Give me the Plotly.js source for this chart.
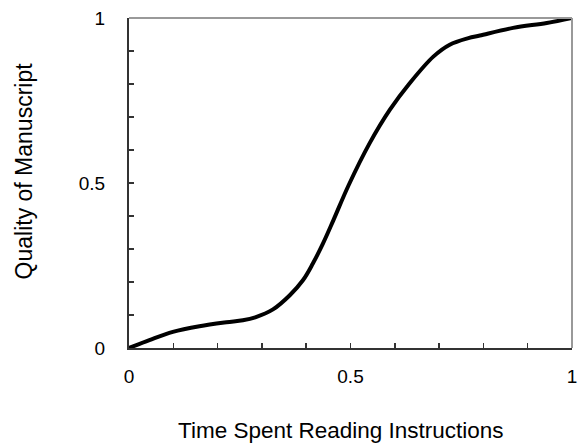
<!DOCTYPE html>
<html>
<head>
<meta charset="utf-8">
<script src="https://cdn.plot.ly/plotly-3.0.1.min.js"></script>
<style>html,body{margin:0;padding:0;background:#fff;}#chart{width:579px;height:443px;}</style>
</head>
<body>
<div id="chart"></div>
<script>
const timeSpent = [0, 0.046, 0.099, 0.159, 0.22, 0.257, 0.285, 0.325, 0.363, 0.393, 0.415, 0.438, 0.461, 0.496, 0.543, 0.589, 0.634, 0.687, 0.724, 0.766, 0.792, 0.867, 0.943, 1];
const quality   = [0, 0.024, 0.049, 0.066, 0.078, 0.084, 0.093, 0.117, 0.16, 0.206, 0.256, 0.317, 0.386, 0.494, 0.62, 0.722, 0.803, 0.883, 0.919, 0.939, 0.947, 0.970, 0.985, 1];
const tickVals = [0, 0.5, 1];
const tickText = ['0', '0.5', '1'];
const xTitle = 'Time Spent Reading Instructions';
const yTitle = 'Quality of Manuscript';

const font = {family: '"Liberation Sans", Arial, sans-serif', color: '#000'};

const trace = {
  x: timeSpent, y: quality, type: 'scatter', mode: 'lines',
  line: {color: '#000', width: 4, shape: 'spline', smoothing: 1},
  hoverinfo: 'skip'
};

const axisCommon = {
  range: [0, 1], showgrid: false, zeroline: false,
  showline: true, linecolor: '#333', linewidth: 2,
  ticks: 'inside', ticklen: 5, tickwidth: 1.5, tickcolor: '#333',
  tickvals: tickVals, ticktext: tickText,
  minor: {dtick: 0.1, ticks: 'inside', ticklen: 5, tickwidth: 1.5, tickcolor: '#333', showgrid: false},
  tickfont: Object.assign({size: 19}, font),
  fixedrange: true
};

const layout = {
  width: 579, height: 443,
  margin: {l: 129, r: 7, t: 18, b: 95},
  paper_bgcolor: '#fff', plot_bgcolor: '#fff',
  showlegend: false,
  font: font,
  xaxis: Object.assign({}, axisCommon, {ticklabelstandoff: 10}),
  yaxis: Object.assign({}, axisCommon, {ticklabelstandoff: 18}),
  shapes: [
    {type: 'line', xref: 'paper', yref: 'paper', x0: 0, x1: 1, y0: 1, y1: 1, line: {color: '#999', width: 2}},
    {type: 'line', xref: 'paper', yref: 'paper', x0: 1, x1: 1, y0: 0, y1: 1, line: {color: '#999', width: 2}}
  ],
  annotations: [
    {text: xTitle, xref: 'paper', yref: 'paper', x: 0.478, y: 0, yshift: -82, showarrow: false,
     xanchor: 'center', yanchor: 'middle', font: Object.assign({size: 22.5}, font)},
    {text: yTitle, xref: 'paper', yref: 'paper', x: 0, y: 0.535, xshift: -105, showarrow: false, textangle: -90,
     xanchor: 'center', yanchor: 'middle', font: Object.assign({size: 23}, font)}
  ]
};

Plotly.newPlot('chart', [trace], layout, {displayModeBar: false, staticPlot: true});
</script>
</body>
</html>
